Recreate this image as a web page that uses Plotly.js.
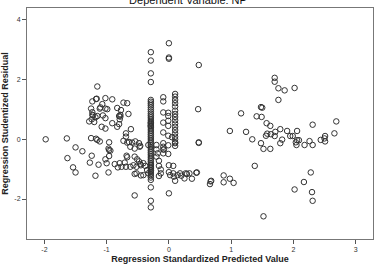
<!DOCTYPE html>
<html><head><meta charset="utf-8">
<script src="https://cdn.plot.ly/plotly-3.0.1.min.js"></script>
<style>html,body{margin:0;padding:0;background:#fff}#c{width:376px;height:268px}</style>
</head><body><div id="c"></div>
<script>
// Right group (predicted value > 0.4)
const rightX = [0.48,1.70,1.70,1.76,1.86,2.02,1.76,1.48,1.50,0.47,1.16,1.41,1.49,1.57,1.63,2.31,2.69,0.98,1.24,1.71,1.79,1.90,2.06,1.58,1.56,1.64,1.70,1.95,1.99,2.66,2.51,2.50,2.51,2.44,2.26,2.06,2.04,2.05,2.09,1.34,1.82,1.79,1.48,1.52,1.63,2.18,2.31,0.48,0.48,1.38,0.45,0.88,0.98,0.88,1.04,0.68,0.67,0.66,2.28,2.17,2.02,2.30,2.31,1.52];
const rightY = [2.49,2.06,1.93,1.71,1.64,1.72,1.32,1.08,1.06,1.01,0.87,0.77,0.75,0.54,0.45,0.49,0.60,0.28,0.25,0.25,0.34,0.28,0.28,0.19,0.12,0.17,0.11,0.11,0.11,0.20,0.11,0.03,-0.07,-0.02,-0.06,-0.03,-0.10,-0.19,-0.03,0.00,-0.01,-0.13,-0.13,-0.32,-0.32,-0.19,-0.19,-0.10,-0.12,-0.89,-1.11,-1.21,-1.32,-1.44,-1.46,-1.39,-1.41,-1.50,-1.11,-1.43,-1.68,-1.77,-2.06,-2.58];

// Vertical column at predicted value about -0.29
const colAY = [2.92,2.64,2.21,1.92,1.32,1.26,1.20,1.14,1.07,1.00,0.93,0.86,0.80,0.74,0.68,0.62,0.57,0.55,0.52,0.48,0.45,0.44,0.40,0.34,0.28,0.22,0.16,0.10,0.04,-0.02,-0.08,-0.14,-0.20,-0.26,-0.32,-0.38,-0.44,-0.50,-0.56,-0.62,-0.68,-0.74,-0.80,-0.85,-0.86,-0.92,-0.95,-0.98,-1.04,-1.05,-1.10,-1.16,-1.22,-1.28,-1.36,-1.61,-2.06,-2.28];
const colAX = colAY.map(() => -0.29);

// Columns near 0
const colCX = [-0.09,-0.09,-0.09,-0.09,-0.09,-0.09,-0.09,-0.09,-0.09];
const colCY = [1.41,1.27,0.90,0.56,0.23,-0.13,-0.25,-0.34,-0.47];
const colDX = [0.00,0.00,0.00,-0.01,-0.01,-0.01,-0.01,-0.01,-0.01,-0.01];
const colDY = [3.22,2.74,2.70,0.89,0.78,0.62,0.45,0.12,-0.20,-0.49];
const colBY = [1.52,1.43,1.32,1.21,1.10,0.96,0.85,0.75,0.64,0.53,0.42,0.31,0.20,0.09,0.00,-0.10,-0.13,-0.22];
const colBX = colBY.map(() => 0.10);

// Lower middle cluster
const midX = [0.05,-0.46,-0.33,-0.20,-0.20,-0.08,-0.18,-0.20,-0.16,-0.46,-0.41,-0.38,-0.16,-0.13,-0.13,-0.16,0.00,0.07,0.00,0.02,0.07,0.08,0.10,0.14,0.20,0.25,0.29,0.33,0.37,0.44,0.00,-0.55,-0.41,-0.33,-0.35,0.18,0.27];
const midY = [0.07,-0.22,-0.19,-0.19,-0.34,-0.34,-0.47,-0.58,-0.72,-0.83,-0.80,-0.89,-0.89,-1.01,-1.14,-1.23,-0.87,-0.89,-1.10,-1.20,-1.14,-1.25,-1.39,-1.20,-1.22,-1.31,-1.16,-1.14,-1.32,-1.12,-1.81,-1.88,-1.20,-1.14,-1.03,-1.14,-1.14];

// Left group
const leftX = [-1.15,-1.16,-1.17,-1.23,-1.02,-0.91,-0.73,-0.67,-1.07,-1.10,-1.11,-1.02,-0.99,-0.83,-0.77,-1.25,-1.23,-1.22,-1.18,-1.15,-1.23,-1.06,-1.02,-0.78,-0.80,-0.78,-0.65,-1.28,-1.20,-1.24,-0.79,-0.91,-0.80,-0.83,-1.08,-1.02,-0.61,-0.69,
  -1.98,-1.64,-1.25,-1.17,-1.15,-1.11,-0.96,-0.69,-0.73,-0.67,-0.59,-0.54,-0.48,-1.50,-0.97,-0.94,-0.96,-1.39,-0.62,-0.55,-0.47,-0.64,
  -1.63,-1.24,-1.27,-1.13,-1.54,-1.50,-1.18,-0.96,-1.02,-1.00,-0.97,-0.87,-0.82,-0.79,-0.76,-0.71,-0.69,-0.67,-0.68,-0.62,-0.57,-0.52,-0.45,-0.55,-0.51,-0.48,-0.55,-0.52,-0.45];
const leftY = [1.77,1.36,1.35,1.27,1.38,1.34,1.23,1.21,1.18,1.07,1.03,1.03,1.01,1.05,0.98,1.03,0.91,0.80,0.74,0.78,0.82,0.80,0.71,0.82,0.78,0.76,0.85,0.60,0.58,0.67,0.67,0.54,0.51,0.42,0.42,0.36,0.34,0.20,
  0.00,0.03,0.04,0.02,-0.02,-0.07,-0.10,0.09,-0.05,-0.11,-0.11,-0.07,-0.13,-0.27,-0.31,-0.38,-0.36,-0.40,-0.25,-0.31,-0.25,-0.09,
  -0.63,-0.55,-0.78,-0.85,-0.94,-1.11,-1.22,-0.56,-0.67,-0.80,-1.11,-0.83,-0.94,-0.80,-0.92,-0.78,-0.92,-0.60,-0.55,-0.92,-0.87,-0.92,-0.87,-0.58,-0.67,-0.74,-1.16,-1.14,-1.21];

const xs = [].concat(rightX, colAX, colCX, colDX, colBX, midX, leftX);
const ys = [].concat(rightY, colAY, colCY, colDY, colBY, midY, leftY);

const xTicks = [-2,-1,0,1,2,3];
const yTicks = [-2,0,2,4];

const F = 'Arial, "Liberation Sans", sans-serif';
Plotly.newPlot('c', [{
  x: xs, y: ys, type: 'scatter', mode: 'markers',
  marker: {symbol: 'circle-open', size: 5.5, color: '#333', line: {width: 1, color: '#333'}},
  hoverinfo: 'none'
}], {
  width: 376, height: 268,
  margin: {l: 27, r: 3, t: 8, b: 29},
  paper_bgcolor: '#fff', plot_bgcolor: '#fff',
  showlegend: false,
  title: {text: 'Dependent Variable: NP', font: {family: F, size: 11, color: '#111'},
          x: 0.5, xref: 'container', y: 1.0, yref: 'container', yanchor: 'middle'},
  xaxis: {range: [-2.28, 3.28], tickvals: xTicks, ticktext: xTicks.map(String),
          showgrid: false, zeroline: false, showline: true, mirror: true, linecolor: '#777', linewidth: 1,
          ticks: 'outside', ticklen: 4, tickcolor: '#555', tickfont: {family: F, size: 7, color: '#333'},
          title: {text: '<b>Regression Standardized Predicted Value</b>', font: {family: F, size: 9, color: '#222'}, standoff: 3}},
  yaxis: {range: [-3.34, 4.40], tickvals: yTicks, ticktext: yTicks.map(String),
          showgrid: false, zeroline: false, showline: true, mirror: true, linecolor: '#777', linewidth: 1,
          ticks: 'outside', ticklen: 4, tickcolor: '#555', tickfont: {family: F, size: 7, color: '#333'},
          title: {text: '<b>Regression Studentized Residual</b>', font: {family: F, size: 9, color: '#222'}, standoff: 4}}
}, {staticPlot: true, displayModeBar: false});
</script></body></html>
